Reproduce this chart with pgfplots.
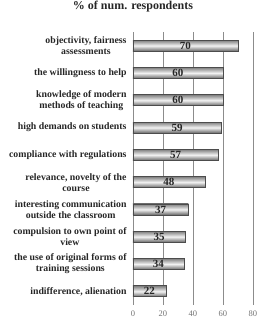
\documentclass[border=0pt]{standalone}
\usepackage{fontspec}
\setmainfont{Liberation Serif}
\usepackage{pgfplots}
\pgfplotsset{compat=1.18}
\begin{document}
\begin{tikzpicture}
\begin{axis}[
  at={(0,0)}, anchor=south west,
  scale only axis,
  width=120pt, height=273pt,
  xbar, bar width=11pt, bar shift=0pt,
  xmin=0, xmax=80,
  ymin=-0.5, ymax=9.5,
  y dir=reverse,
  xtick={0,20,40,60,80},
  ytick={0,...,9},
  yticklabels={{objectivity, fairness\\assessments},
               {the willingness to help},
               {knowledge of modern\\methods of teaching},
               {high demands on students},
               {compliance with regulations},
               {relevance, novelty of the\\course},
               {interesting communication\\outside the classroom},
               {compulsion to own point of\\view},
               {the use of original forms of\\training sessions},
               {indifference, alienation}},
  yticklabel style={align=center, font=\fontsize{9.8}{11}\selectfont\bfseries, text=black!85, inner sep=2pt},
  xticklabel style={font=\fontsize{8.5}{9}\selectfont, text=black!55, yshift=-2pt},
  /pgf/number format/assume math mode=true,
  xmajorgrids, grid style={black!45, line width=0.6pt},
  axis x line*=bottom,
  x axis line style={draw=none},
  xtick style={draw=none},
  axis y line*=left,
  y axis line style={black!45, line width=0.6pt},
  ytick style={draw=none},
  minor y tick num=1,
  minor tick length=3pt,
  minor y tick style={black!45},
  title={\% of num. respondents},
  title style={font=\fontsize{12}{13}\selectfont\bfseries, text=black!85, at={(0,1)}, yshift=10pt},
  visualization depends on=rawx \as \rawx,
  nodes near coords,
  every node near coord/.append style={anchor=center, xshift={-0.75*\rawx pt}, font=\fontsize{11}{12}\selectfont\bfseries, text=black!85},
  bstyle/.style={draw=black!70, top color=black!50, bottom color=black!60, middle color=black!5, line width=0.8pt},
]
\addplot[bstyle] coordinates {(70,0)};
\addplot[bstyle] coordinates {(60,1)};
\addplot[bstyle] coordinates {(60,2)};
\addplot[bstyle] coordinates {(59,3)};
\addplot[bstyle] coordinates {(57,4)};
\addplot[bstyle] coordinates {(48,5)};
\addplot[bstyle] coordinates {(37,6)};
\addplot[bstyle] coordinates {(35,7)};
\addplot[bstyle] coordinates {(34,8)};
\addplot[bstyle] coordinates {(22,9)};
\end{axis}
\pgfresetboundingbox
\path[use as bounding box] (-133pt,-19pt) rectangle (129pt,305pt);
\end{tikzpicture}
\end{document}
